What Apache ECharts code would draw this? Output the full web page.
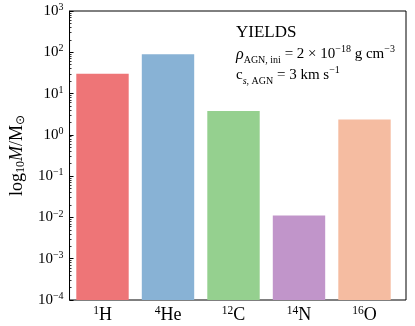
<!DOCTYPE html>
<html><head><meta charset="utf-8">
<script src="https://cdn.jsdelivr.net/npm/echarts@6/dist/echarts.min.js"></script>
<style>html,body{margin:0;padding:0;background:#fff}#c{width:415px;height:326px}</style>
</head><body><div id="c"></div>
<script>
// ---- data ----
const isotopes = ['H', 'He', 'C', 'N', 'O'];
const massNumbers = ['1', '4', '12', '14', '16'];
const yields = [30, 90, 3.8, 0.0112, 2.35];
const barColors = ['#EE7577', '#88B2D5', '#95D08F', '#C195CA', '#F5BCA1'];
const yMin = 1e-4, yMax = 1e3;
const majorExponents = [-4, -3, -2, -1, 0, 1, 2, 3];
const minorMultipliers = [2, 3, 4, 5, 6, 7, 8, 9];

const FONT = 'Liberation Serif';
const minorTicks = [];
majorExponents.slice(0, -1).forEach(e => minorMultipliers.forEach(k => minorTicks.push(k * Math.pow(10, e))));
const majorTicks = majorExponents.map(e => Math.pow(10, e));

function expLabel(v) {
  const e = Math.round(Math.log10(v));
  return '{n|10}{sup|' + String(e).replace('-', '\u2212') + '}';
}

const chart = echarts.init(document.getElementById('c'), null, {renderer: 'canvas'});
chart.setOption({
  animation: false,
  backgroundColor: '#fff',
  title: {
    left: 231, top: 17,
    text: '{h|YIELDS}\n{i|\u03c1}{sub|AGN, ini}{t| = 2 \u00d7 10}{sup|\u221218}{t| g cm}{sup|\u22123}\n{t|c}{subi|s}{sub|, AGN}{t| = 3 km s}{sup|\u22121}',
    textStyle: {
      fontFamily: FONT, fontWeight: 'normal', color: '#000',
      rich: {
        h: {fontFamily: FONT, fontSize: 17, lineHeight: 22, color: '#000'},
        t: {fontFamily: FONT, fontSize: 15, lineHeight: 21, color: '#000'},
        i: {fontFamily: FONT, fontSize: 16, fontStyle: 'italic', lineHeight: 21, color: '#000'},
        sub: {fontFamily: FONT, fontSize: 10, lineHeight: 13, verticalAlign: 'bottom', color: '#000'},
        subi: {fontFamily: FONT, fontSize: 10, fontStyle: 'italic', lineHeight: 13, verticalAlign: 'bottom', color: '#000'},
        sup: {fontFamily: FONT, fontSize: 10, lineHeight: 11, verticalAlign: 'top', color: '#000'}
      }
    }
  },
  grid: [
    {left: 60, right: 9, top: 11, bottom: 26, show: true, borderColor: '#000', borderWidth: 1, backgroundColor: 'transparent', containLabel: false},
    {left: 69.75, right: 17.75, top: 11, bottom: 26, containLabel: false}
  ],
  xAxis: [
    {gridIndex: 0, type: 'value', min: 0, max: 1, show: false},
    {gridIndex: 1, type: 'category', data: isotopes,
      axisLine: {show: false}, axisTick: {show: false},
      axisLabel: {
        margin: 5, interval: 0,
        formatter: (v, i) => '{sup|' + massNumbers[i] + '}{n|' + v + '}',
        rich: {
          n: {fontFamily: FONT, fontSize: 18, lineHeight: 20, color: '#000'},
          sup: {fontFamily: FONT, fontSize: 11.5, lineHeight: 11, verticalAlign: 'top', color: '#000'}
        }
      }
    }
  ],
  yAxis: [
    {gridIndex: 0, type: 'log', logBase: 10, min: yMin, max: yMax,
      name: '{l|log}{sub|10}{m|M}{l|/M}{sub|\u2299}',
      nameLocation: 'middle', nameGap: 33, nameRotate: 90,
      nameTextStyle: {
        rich: {
          l: {fontFamily: FONT, fontSize: 18, lineHeight: 20, color: '#000'},
          m: {fontFamily: FONT, fontSize: 18, fontStyle: 'italic', lineHeight: 20, color: '#000'},
          sub: {fontFamily: FONT, fontSize: 12, lineHeight: 13, verticalAlign: 'bottom', color: '#000'}
        }
      },
      axisLine: {show: true, lineStyle: {color: '#000', width: 1}},
      axisTick: {show: true, inside: true, length: 4, lineStyle: {color: '#000', width: 1}, customValues: majorTicks},
      splitLine: {show: false},
      axisLabel: {
        margin: 6,
        customValues: majorTicks,
        formatter: expLabel,
        rich: {
          n: {fontFamily: FONT, fontSize: 15, lineHeight: 17, color: '#000'},
          sup: {fontFamily: FONT, fontSize: 10, lineHeight: 10, verticalAlign: 'top', color: '#000'}
        }
      }
    },
    {gridIndex: 0, type: 'log', logBase: 10, min: yMin, max: yMax, position: 'left',
      axisLine: {show: false}, splitLine: {show: false}, axisLabel: {show: false},
      axisTick: {show: true, inside: true, length: 2, lineStyle: {color: '#000', width: 0.8}, customValues: minorTicks}
    },
    {gridIndex: 1, type: 'log', logBase: 10, min: yMin, max: yMax, startValue: yMin, show: false}
  ],
  series: [{
    type: 'bar', xAxisIndex: 1, yAxisIndex: 2,
    barWidth: '80%',
    data: yields.map((v, i) => ({value: v, itemStyle: {color: barColors[i]}})),
    silent: true
  }]
});
</script></body></html>
